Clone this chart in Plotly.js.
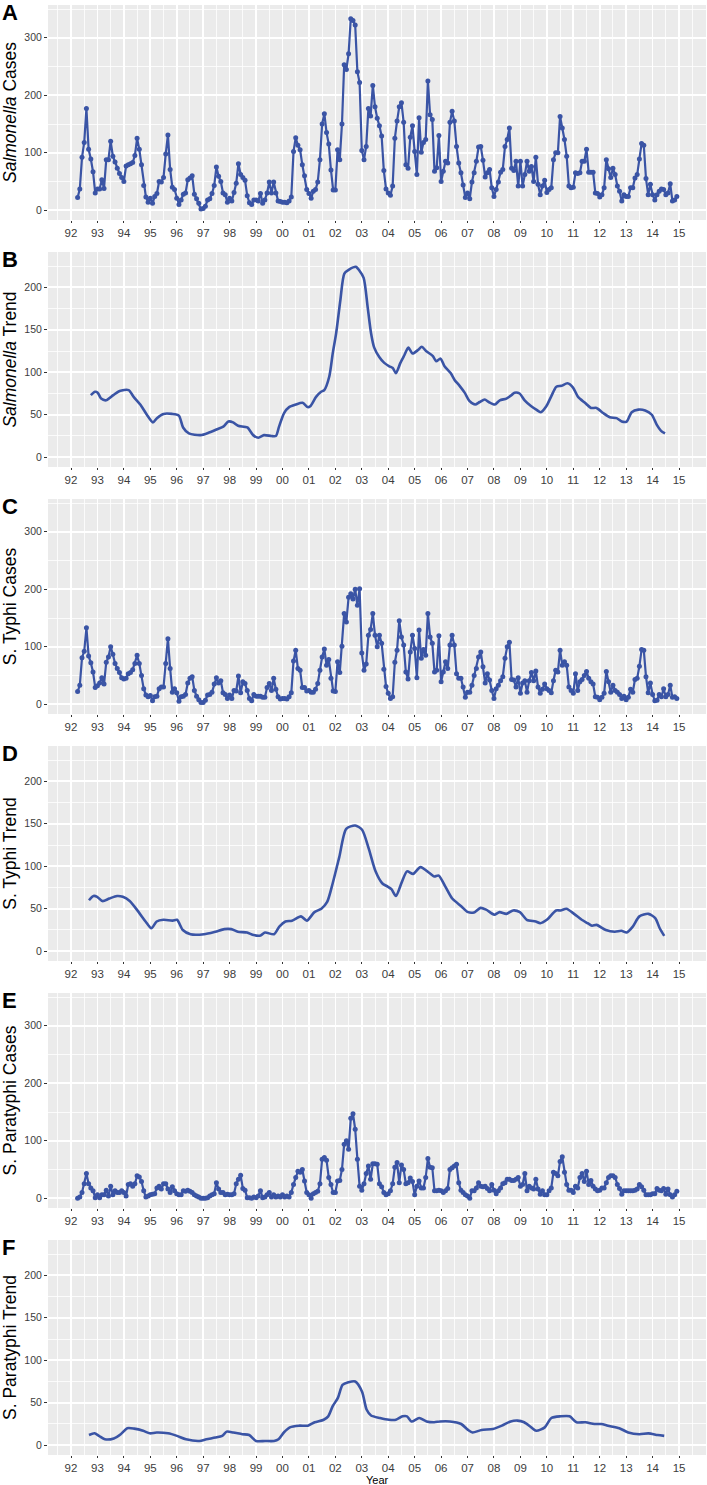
<!DOCTYPE html>
<html><head><meta charset="utf-8">
<script src="https://cdn.plot.ly/plotly-3.0.1.min.js"></script>
<style>html,body{margin:0;padding:0;background:#fff}#chart{width:707px;height:1485px}</style>
</head><body><div id="chart"></div>
<script>
// ---------- tick labels ----------
const yearTicks = [1992,1993,1994,1995,1996,1997,1998,1999,2000,2001,2002,2003,2004,2005,2006,2007,2008,2009,2010,2011,2012,2013,2014,2015];
const yearLabels = ['92','93','94','95','96','97','98','99','00','01','02','03','04','05','06','07','08','09','10','11','12','13','14','15'];
const caseTicks = [0,100,200,300];
const trendTicks = [0,50,100,150,200];

// monthly case series start in April 1992 (one value per month to Dec 2014)
const caseStartYear = 1992;
const caseStartMonth = 4;

const salmonellaCases = [
  22,37,92,118,177,106,89,67,30,
  37,37,53,38,88,88,120,94,84,73,64,57,
  50,77,79,81,83,95,125,106,79,43,23,14,
  21,12,24,29,50,49,57,98,131,71,40,36,
  21,10,18,28,30,53,56,60,28,20,12,2,
  3,7,18,20,29,43,75,59,50,30,27,14,
  21,16,31,47,81,62,57,52,25,13,10,18,
  18,16,29,12,18,30,49,30,49,30,16,15,
  14,14,13,16,23,102,126,113,105,79,60,36,
  29,21,33,36,49,88,150,168,135,115,70,35,
  35,105,88,150,253,245,272,333,330,322,241,222,
  104,88,111,177,164,217,180,160,147,129,69,37,
  30,26,42,125,155,180,187,153,79,73,127,147,
  102,62,161,101,118,123,225,166,158,68,74,130,
  50,68,85,82,153,172,155,111,82,65,44,22,
  30,20,49,65,85,110,111,87,58,65,71,39,
  24,36,49,66,71,111,123,143,73,69,85,42,
  85,42,62,85,68,76,50,92,45,27,42,52,
  31,36,39,88,100,100,163,143,123,94,42,39,
  40,65,64,65,85,85,106,66,66,66,30,29,
  23,27,39,88,72,57,73,62,42,33,16,27,
  24,24,39,39,56,62,89,116,113,55,27,45,
  27,18,27,33,37,36,27,30,46,16,18,24
];

const typhiCases = [
  22,33,81,92,133,84,72,56,29,
  32,37,46,35,73,82,100,87,71,62,55,46,
  44,45,53,55,60,71,85,71,50,27,16,13,
  15,6,13,14,27,30,30,71,114,62,21,27,
  20,5,13,14,17,37,45,48,24,14,8,3,
  3,7,16,17,21,35,46,37,41,20,17,10,
  16,10,24,23,49,20,39,36,24,10,6,17,
  14,14,14,12,12,29,36,24,45,26,13,9,
  10,10,9,13,20,75,94,62,59,29,29,23,
  24,21,21,26,36,59,82,96,68,78,45,23,
  22,74,55,101,158,143,186,192,183,200,172,201,
  89,59,70,120,130,158,120,100,120,106,61,31,
  19,10,13,73,94,145,117,103,56,44,91,120,
  97,46,129,80,95,85,158,117,106,56,59,119,
  39,56,74,62,103,120,103,53,45,45,30,12,
  21,21,33,50,62,82,91,65,37,53,42,24,
  10,27,33,41,48,80,100,108,43,42,30,46,
  19,37,41,21,41,55,41,58,30,19,26,35,
  27,24,20,41,59,56,94,68,74,68,30,24,
  19,53,24,39,43,50,57,45,39,35,13,12,
  8,12,19,57,39,21,33,24,21,17,10,14,
  8,12,26,21,43,45,66,95,94,48,20,37,
  17,6,7,17,13,27,13,17,33,12,13,10
];

const paratyphiCases = [
  0,2,10,25,43,25,18,13,1,
  6,1,6,6,14,4,21,6,13,10,10,13,
  10,4,24,25,21,25,39,37,29,13,2,4,
  6,7,8,18,21,16,25,25,16,10,20,13,
  8,6,6,13,12,14,12,10,6,4,2,0,
  0,0,1,4,6,8,27,16,10,10,6,7,
  6,6,8,25,33,40,17,14,1,1,0,2,
  1,4,13,1,2,6,10,2,6,2,4,2,
  6,2,4,2,10,24,36,47,45,50,30,10,
  6,0,8,10,12,25,68,71,66,36,24,10,
  10,30,31,50,94,100,85,139,147,120,68,21,
  14,25,43,56,33,60,60,59,25,20,10,6,
  8,13,25,54,62,27,58,50,25,27,35,29,
  6,21,30,18,18,36,69,54,53,13,13,14,
  13,10,13,17,50,53,56,59,27,14,10,6,
  4,0,13,13,18,27,21,20,21,17,13,24,
  14,8,13,18,25,27,33,33,31,31,33,36,
  21,24,43,13,21,18,16,33,16,7,13,6,
  6,13,18,45,43,39,64,72,45,24,14,14,
  10,21,18,36,43,29,47,24,31,21,16,13,
  14,18,18,27,36,39,39,36,24,17,7,13,
  13,13,13,13,14,16,24,20,14,6,6,6,
  8,8,17,14,13,17,7,16,6,2,6,12
];

// ---------- trend series (decimal year, value) ----------
const salTrendYears = [1992.75,1992.91,1993.01,1993.14,1993.33,1993.6,1993.84,1994.18,1994.37,1994.62,1994.87,1995.1,1995.25,1995.5,1995.82,1996.08,1996.24,1996.46,1996.9,1997.22,1997.53,1997.76,1997.95,1998.13,1998.32,1998.67,1998.89,1999.09,1999.3,1999.58,1999.75,1999.87,2000.06,2000.25,2000.5,2000.76,2000.95,2001.05,2001.27,2001.46,2001.58,2001.77,2001.9,2002.03,2002.19,2002.34,2002.53,2002.78,2002.9,2003.07,2003.22,2003.35,2003.47,2003.66,2003.85,2004.04,2004.17,2004.29,2004.46,2004.61,2004.76,2004.92,2005.12,2005.27,2005.43,2005.69,2005.81,2005.98,2006.13,2006.36,2006.51,2006.7,2006.89,2007.08,2007.29,2007.46,2007.65,2007.8,2008.03,2008.22,2008.47,2008.66,2008.78,2008.97,2009.16,2009.41,2009.6,2009.77,2009.98,2010.17,2010.36,2010.55,2010.78,2010.99,2011.18,2011.44,2011.67,2011.88,2012.13,2012.38,2012.64,2012.83,2013.02,2013.21,2013.46,2013.72,2013.97,2014.16,2014.32,2014.47];
const salTrendValues = [73,77,76,69,67,73,78,79,71,62,50,41,46,51,51,49,35,28,26,29,33,36,42,41,37,35,26,23,26,25,25,36,52,59,62,64,59,60,71,77,79,95,122,146,185,216,221,224,220,211,177,146,129,118,111,107,105,99,111,120,129,122,126,130,125,119,113,116,107,99,91,84,76,66,62,65,68,65,62,67,69,73,76,75,67,60,56,53,60,72,83,84,87,82,71,64,58,58,52,47,46,42,42,53,56,55,50,38,31,28];

const typhiTrendYears = [1992.68,1992.85,1992.99,1993.19,1993.45,1993.74,1993.96,1994.22,1994.56,1994.82,1995.04,1995.24,1995.5,1995.84,1996.01,1996.23,1996.52,1997.03,1997.46,1997.8,1998.06,1998.31,1998.66,1998.91,1999.17,1999.34,1999.68,1999.88,2000.11,2000.36,2000.7,2000.92,2001.21,2001.47,2001.69,2001.9,2002.15,2002.41,2002.75,2003.01,2003.26,2003.52,2003.77,2003.98,2004.12,2004.29,2004.51,2004.71,2004.94,2005.22,2005.56,2005.74,2005.91,2006.16,2006.42,2006.76,2007.02,2007.27,2007.49,2007.7,2008.01,2008.21,2008.47,2008.72,2008.98,2009.24,2009.58,2009.75,2010.0,2010.35,2010.52,2010.74,2011.03,2011.32,2011.54,2011.71,2011.88,2012.23,2012.57,2012.82,2013.02,2013.25,2013.5,2013.84,2014.1,2014.27,2014.44];
const typhiTrendValues = [60,65,64,59,62,65,64,59,46,35,27,35,37,36,37,25,20,20,23,26,26,23,22,19,18.5,22,20,29,35,36,41,36,46,50,58,80,111,144,148,143,121,94,80,76,73,65,81,94,91,99,92,88,89,76,62,53,46,46,51,49,43,46,44,48,46,37,35,33,37,48,48,50,44,37,33,30,31,25,23,24,22,29,41,44,39,27,18];

const paraTrendYears = [1992.68,1992.89,1993.06,1993.28,1993.62,1993.88,1994.13,1994.39,1994.73,1994.98,1995.24,1995.67,1996.01,1996.35,1996.86,1997.12,1997.46,1997.72,1997.89,1998.14,1998.48,1998.74,1999.0,1999.34,1999.68,1999.85,2000.05,2000.28,2000.62,2000.96,2001.22,2001.56,2001.73,2001.9,2002.1,2002.27,2002.49,2002.75,2003.01,2003.18,2003.35,2003.69,2004.03,2004.29,2004.54,2004.71,2004.88,2005.17,2005.45,2005.74,2005.96,2006.33,2006.76,2007.02,2007.19,2007.53,2007.96,2008.3,2008.63,2008.89,2009.14,2009.41,2009.6,2009.92,2010.17,2010.52,2010.86,2011.12,2011.46,2011.8,2012.06,2012.31,2012.74,2013.08,2013.5,2013.84,2014.19,2014.44];
const paraTrendValues = [12,14,11,7,8,13,20,19.5,17,14,15,14,11,7,5,7,9,11,16,15,13,12,5,5,5,7,15,21,23,23,27,30,34,46,56,71,74,75,63,42,35,32,30,30,34,34,28,32,28,27,28,28,25,18,15,18,19,23,28,29,27,21,17,21,32,34,34,27,27,25,25,23,20,15,13,14,12,11];

// ---------- build figure ----------
const caseYears = salmonellaCases.map((_, i) => caseStartYear + (caseStartMonth - 1 + i) / 12);
const blue = '#3a54a5';
const W = 707, H = 1485;
const M = {l: 48, r: 1, t: 5, b: 30};
const plotBottom = H - M.b, plotH = H - M.t - M.b;
const panelTop = [5, 252, 499, 746, 993, 1240];
const panelH = 215;
const py = Y => (plotBottom - Y) / plotH;

const panels = [
  {letter: 'A', title: '<i>Salmonella</i> Cases', x: caseYears, y: salmonellaCases, kind: 'case'},
  {letter: 'B', title: '<i>Salmonella</i> Trend', x: salTrendYears, y: salTrendValues, kind: 'trend'},
  {letter: 'C', title: 'S. Typhi Cases', x: caseYears, y: typhiCases, kind: 'case'},
  {letter: 'D', title: 'S. Typhi Trend', x: typhiTrendYears, y: typhiTrendValues, kind: 'trend'},
  {letter: 'E', title: 'S. Paratyphi Cases', x: caseYears, y: paratyphiCases, kind: 'case'},
  {letter: 'F', title: 'S. Paratyphi Trend', x: paraTrendYears, y: paraTrendValues, kind: 'trend'}
];

const data = [];
const layout = {
  width: W, height: H, margin: M,
  paper_bgcolor: '#ffffff', plot_bgcolor: '#ebebeb',
  showlegend: false,
  font: {family: 'Liberation Sans, Arial, sans-serif', color: '#000'},
  annotations: []
};

panels.forEach((p, i) => {
  const n = i === 0 ? '' : String(i + 1);
  const isCase = p.kind === 'case';
  data.push({
    type: 'scatter', x: p.x, y: p.y, xaxis: 'x' + n, yaxis: 'y' + n,
    mode: isCase ? 'lines+markers' : 'lines',
    line: {color: blue, width: isCase ? 2.2 : 2.6, shape: isCase ? 'linear' : 'spline', smoothing: 0.7},
    marker: {color: blue, size: 5},
    hoverinfo: 'x+y'
  });
  const top = panelTop[i], bot = top + panelH;
  layout['xaxis' + n] = {
    domain: [0, 1], anchor: 'y' + n, range: [1991.13, 2016.02],
    tickmode: 'array', tickvals: yearTicks, ticktext: yearLabels,
    ticks: 'outside', ticklen: 2, tickwidth: 1, tickcolor: '#333',
    tickfont: {size: 11.5, color: '#3c3c3c'},
    showgrid: true, gridcolor: '#ffffff', gridwidth: 1.7,
    minor: {tickmode: 'linear', tick0: 1991.5, dtick: 1, showgrid: true, gridcolor: '#ffffff', gridwidth: 0.8, ticks: ''},
    zeroline: false, showline: false, fixedrange: true,
    title: {text: ''}
  };
  layout['yaxis' + n] = {
    domain: [py(bot), py(top)], anchor: 'x' + n,
    range: isCase ? [-17, 357] : [-11.5, 241.5],
    tickmode: 'array', tickvals: isCase ? caseTicks : trendTicks,
    ticks: 'outside', ticklen: 3, tickwidth: 1, tickcolor: '#333',
    tickfont: {size: 10.5, color: '#3c3c3c'},
    showgrid: true, gridcolor: '#ffffff', gridwidth: 1.7,
    minor: {tickmode: 'linear', tick0: isCase ? 50 : 25, dtick: isCase ? 100 : 50, showgrid: true, gridcolor: '#ffffff', gridwidth: 0.8, ticks: ''},
    zeroline: false, showline: false, fixedrange: true,
    title: {text: p.title, font: {size: 17.5, color: '#000'}, standoff: 7}
  };
  layout.annotations.push({
    text: '<b>' + p.letter + '</b>', xref: 'paper', yref: 'paper',
    x: -M.l / (W - M.l - M.r), y: py(top - 7), xanchor: 'left', yanchor: 'top',
    showarrow: false, font: {size: 22, color: '#000'}
  });
});

// x-axis title of the bottom panel
layout.annotations.push({
  text: 'Year', xref: 'paper', yref: 'paper', x: 0.5, y: py(H + 2), xanchor: 'center', yanchor: 'bottom',
  showarrow: false, borderpad: 0, font: {size: 11, color: '#000'}
});

Plotly.newPlot('chart', data, layout, {staticPlot: true, displayModeBar: false});
</script>
</body></html>
